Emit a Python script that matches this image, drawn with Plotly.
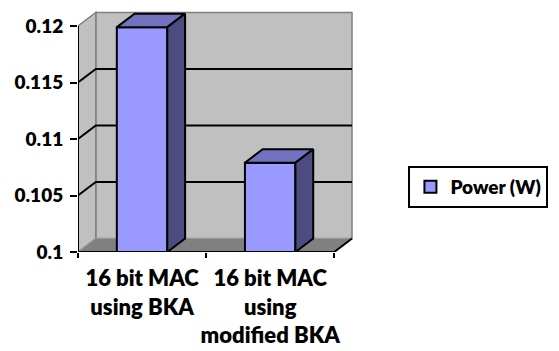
import plotly.graph_objects as go

# ---- data ----
categories = ["16 bit MAC<br>using BKA", "16 bit MAC<br>using<br>modified BKA"]
power_w = [0.1199, 0.1079]
series_name = "Power (W)"
y_tick_values = [0.1, 0.105, 0.11, 0.115, 0.12]
y_tick_labels = ["0.1", "0.105", "0.11", "0.115", "0.12"]

# ---- layout geometry ----
W, H = 559, 351
M_L, M_R, M_T, M_B = 78, 201, 10, 99
plot_w = W - M_L - M_R
plot_h = H - M_T - M_B
y_base, y_wall_top = 0.1, 0.12
px_per_x = 129.5                      # pixels per category slot
px_per_y = 226 / (y_wall_top - y_base)
x_lo = -0.5
x_front = len(categories) - 0.5
x_hi = x_lo + plot_w / px_per_x
y_hi = y_base + plot_h / px_per_y
dx = 18 / px_per_x                    # oblique depth offset (x)
dy = 13.5 / px_per_y                  # oblique depth offset (y)
bar_w = 0.394

FONT = "Lato"
TEXT_WEIGHT = 800
WALL = "#c0c0c0"
WALL_EDGE = "#808080"
FLOOR = "#808080"
FRONT = "#9999ff"
TOP = "#7272c0"
SIDE = "#4c4c80"

fig = go.Figure()

# back wall, side wall, floor
shapes = [
    dict(type="rect", x0=x_lo + dx, x1=x_front + dx, y0=y_base + dy, y1=y_wall_top + dy,
         fillcolor=WALL, line=dict(color=WALL_EDGE, width=1.5), layer="below"),
    dict(type="path",
         path=f"M{x_lo},{y_base} L{x_lo+dx},{y_base+dy} L{x_lo+dx},{y_wall_top+dy} L{x_lo},{y_wall_top} Z",
         fillcolor=WALL, line=dict(color=WALL_EDGE, width=1.5), layer="below"),
    dict(type="path",
         path=f"M{x_lo},{y_base} L{x_front},{y_base} L{x_front+dx},{y_base+dy} L{x_lo+dx},{y_base+dy} Z",
         fillcolor=FLOOR, line=dict(color="#9a9a9a", width=1), layer="below"),
]
# gridlines running along the side wall and across the back wall
for v in y_tick_values[1:-1]:
    shapes.append(dict(type="path",
                       path=f"M{x_lo},{v} L{x_lo+dx},{v+dy} L{x_front+dx},{v+dy}",
                       line=dict(color="black", width=2), layer="below"))

# front faces of the columns
fig.add_trace(go.Bar(
    x=list(range(len(categories))), y=[v - y_base for v in power_w], base=y_base,
    width=bar_w, name=series_name, cliponaxis=False,
    marker=dict(color=FRONT, line=dict(color="black", width=2)),
))

# top and side faces of the columns
for i, v in enumerate(power_w):
    x0, x1 = i - bar_w / 2, i + bar_w / 2
    fig.add_trace(go.Scatter(
        x=[x0, x1, x1 + dx, x0 + dx, x0], y=[v, v, v + dy, v + dy, v],
        mode="lines", fill="toself", fillcolor=TOP, line=dict(color="black", width=2),
        showlegend=False, hoverinfo="skip", cliponaxis=False))
    fig.add_trace(go.Scatter(
        x=[x1, x1 + dx, x1 + dx, x1, x1], y=[y_base, y_base + dy, v + dy, v, y_base],
        mode="lines", fill="toself", fillcolor=SIDE, line=dict(color="black", width=2),
        showlegend=False, hoverinfo="skip", cliponaxis=False))

# axis lines on the front plane
fig.add_trace(go.Scatter(x=[x_lo, x_lo], y=[y_base, y_wall_top], mode="lines",
                         line=dict(color="black", width=2), showlegend=False,
                         hoverinfo="skip", cliponaxis=False))
fig.add_trace(go.Scatter(x=[x_lo, x_front, x_front + dx], y=[y_base, y_base, y_base + dy],
                         mode="lines", line=dict(color="black", width=2), showlegend=False,
                         hoverinfo="skip", cliponaxis=False))

fig.update_layout(
    width=W, height=H,
    margin=dict(l=M_L, r=M_R, t=M_T, b=M_B, pad=0),
    paper_bgcolor="white", plot_bgcolor="rgba(0,0,0,0)",
    shapes=shapes,
    showlegend=True,
    legend=dict(x=(412 - M_L) / plot_w, y=(252 - 166) / plot_h, xanchor="left", yanchor="top",
                bordercolor="black", borderwidth=2, bgcolor="white",
                font=dict(family=FONT, size=19, color="black", weight=TEXT_WEIGHT)),
    xaxis=dict(range=[x_lo, x_hi], tickvals=list(range(len(categories))), ticktext=categories,
               ticks="", showgrid=False, zeroline=False, showline=False,
               tickangle=0, automargin=False, ticklabelstandoff=11,
               tickfont=dict(family=FONT, size=22, color="black", weight=TEXT_WEIGHT),
               minor=dict(tickmode="array", tickvals=[i - 0.5 for i in range(len(categories) + 1)],
                          ticks="outside", ticklen=5, tickwidth=2, tickcolor="black",
                          showgrid=False)),
    yaxis=dict(range=[y_base, y_hi], tickvals=y_tick_values, ticktext=y_tick_labels,
               ticks="outside", ticklen=7, tickwidth=2, tickcolor="black",
               showgrid=False, zeroline=False, showline=False, automargin=False,
               ticklabelstandoff=3,
               tickfont=dict(family=FONT, size=19, color="black", weight=TEXT_WEIGHT)),
)

fig.write_html("out.html")
